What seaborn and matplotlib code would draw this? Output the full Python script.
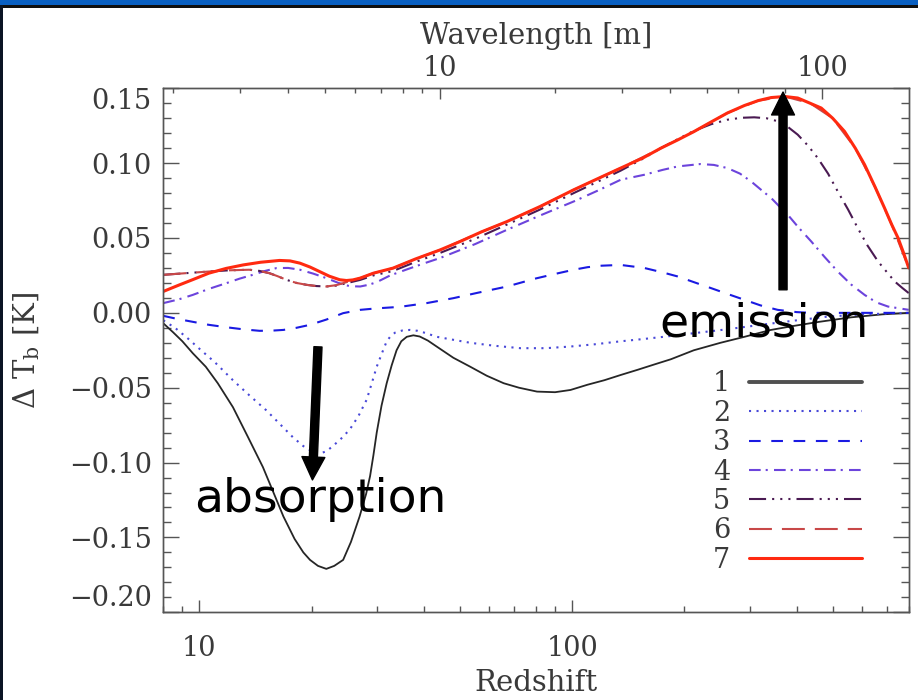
import matplotlib
matplotlib.use('Agg')
import matplotlib.pyplot as plt
import matplotlib.ticker as ticker
from matplotlib.patches import Rectangle
import seaborn as sns

# 21cm brightness temperature curves (redshift, Delta T_b in K)
z1 = [8.0, 8.5, 9.0, 9.6, 10.4, 11.2, 12.3, 13.5, 14.8, 15.8, 16.8, 18.0, 19.0, 19.8, 20.8,
      21.9, 23.0, 24.3, 25.5, 26.9, 28.0, 28.7, 29.3, 29.9, 30.8, 31.8, 32.8, 33.8, 34.8, 36.0,
      37.5, 39.0, 41.0, 43.3, 48.0, 53.3, 59.0, 65.5, 72.0, 80.5, 90.0, 99, 110, 122, 135, 150,
      166, 184, 212, 250, 290, 340, 387, 460, 560, 680, 800]
t1 = [-0.007, -0.013, -0.019, -0.027, -0.036, -0.047, -0.063, -0.083, -0.103, -0.120, -0.136,
      -0.151, -0.160, -0.165, -0.169, -0.171, -0.169, -0.165, -0.153, -0.136, -0.121, -0.109,
      -0.095, -0.080, -0.062, -0.047, -0.035, -0.025, -0.019, -0.016, -0.015, -0.0158, -0.0185,
      -0.0225, -0.030, -0.036, -0.042, -0.047, -0.050, -0.0526, -0.053, -0.0515, -0.048, -0.045,
      -0.0415, -0.038, -0.0345, -0.031, -0.025, -0.020, -0.016, -0.0115, -0.009, -0.006, -0.003,
      -0.001, 0.000]

z2 = [8.0, 8.6, 9.3, 10.0, 11.0, 12.3, 13.6, 15.1, 16.4, 17.8, 19.0, 20.2, 21.0, 21.9, 22.8,
      24.0, 25.3, 26.7, 28.1, 29.0, 29.9, 31.1, 31.8, 32.6, 33.5, 35.0, 36.7, 38.5, 40.5, 43.3,
      48, 53.3, 62, 72.6, 85, 98.9, 115, 135, 155, 176, 212, 260, 321, 400, 485, 600, 800]
t2 = [-0.005, -0.010, -0.017, -0.024, -0.033, -0.045, -0.055, -0.065, -0.074, -0.083, -0.089,
      -0.093, -0.094, -0.0925, -0.089, -0.084, -0.078, -0.069, -0.058, -0.047, -0.036, -0.025,
      -0.019, -0.0155, -0.0132, -0.0118, -0.0114, -0.012, -0.0135, -0.016, -0.018, -0.020,
      -0.022, -0.0236, -0.0236, -0.0225, -0.021, -0.019, -0.0175, -0.016, -0.0136, -0.011,
      -0.008, -0.005, -0.0025, -0.001, 0.000]

z3 = [8.0, 8.7, 9.6, 10.6, 11.8, 13.1, 14.5, 15.6, 16.8, 18.2, 19.8, 21.9, 24.3, 27.0, 29.9,
      34.5, 40.7, 48.0, 56, 66.9, 80, 90, 101, 110, 120, 135, 156, 175, 192, 215, 236, 262,
      290, 320, 356, 400, 438, 560, 800]
t3 = [-0.002, -0.004, -0.006, -0.008, -0.0096, -0.011, -0.012, -0.0119, -0.0114, -0.010,
      -0.008, -0.0045, -0.0002, 0.002, 0.003, 0.004, 0.0065, 0.0098, 0.0135, 0.0176, 0.023,
      0.026, 0.0288, 0.0305, 0.0315, 0.032, 0.030, 0.027, 0.0243, 0.020, 0.0165, 0.0125,
      0.0087, 0.005, 0.002, 0.0005, 0.0, 0.0, 0.0]

z4 = [8.0, 8.8, 9.6, 10.6, 11.8, 12.8, 13.9, 15.0, 16.1, 17.3, 18.6, 20.2, 21.9, 23.6, 25.3,
      27.0, 28.5, 29.9, 32.5, 36.0, 40, 44.2, 55, 66.9, 82, 101, 118, 135, 156, 175, 192, 221,
      240, 261, 282, 302, 322, 342, 360, 379, 405, 438, 475, 516, 560, 609, 655, 704, 800]
t4 = [0.0065, 0.009, 0.012, 0.016, 0.0198, 0.0228, 0.0254, 0.028, 0.0299, 0.030, 0.0288,
      0.0262, 0.0232, 0.020, 0.0178, 0.0176, 0.0188, 0.0205, 0.025, 0.029, 0.033, 0.0366,
      0.046, 0.0555, 0.065, 0.0744, 0.082, 0.0889, 0.0922, 0.0955, 0.0978, 0.0994, 0.0988,
      0.0967, 0.093, 0.0878, 0.082, 0.0767, 0.071, 0.0655, 0.057, 0.0477, 0.0375, 0.0276,
      0.019, 0.012, 0.007, 0.0042, 0.002]

z5 = [8.0, 9.2, 10.6, 12.0, 13.6, 14.5, 15.4, 16.2, 17.1, 18.2, 19.4, 20.6, 21.9, 23.3, 24.8,
      27.0, 29.3, 33.1, 38, 44.2, 55, 66.9, 82, 101, 118, 135, 155, 173, 192, 212, 236, 261,
      285, 308, 332, 356, 380, 403, 430, 456, 486, 516, 550, 584, 620, 662, 700, 734, 770, 800]
t5 = [0.0254, 0.0265, 0.0276, 0.0284, 0.0288, 0.028, 0.0265, 0.0245, 0.0221, 0.020, 0.0187,
      0.0179, 0.0176, 0.0182, 0.0198, 0.022, 0.025, 0.028, 0.034, 0.040, 0.0495, 0.059, 0.069,
      0.080, 0.088, 0.095, 0.103, 0.110, 0.116, 0.1215, 0.126, 0.129, 0.1303, 0.1306, 0.130,
      0.128, 0.124, 0.119, 0.1115, 0.1034, 0.093, 0.0811, 0.069, 0.0566, 0.045, 0.0343, 0.027,
      0.0209, 0.0165, 0.0132]

z6 = [8.0, 9.2, 10.6, 12.0, 13.6, 14.5, 15.4, 16.2, 17.1, 18.2, 19.4, 20.6, 21.9, 23.3, 24.8,
      27.0, 29.3, 33.1, 38, 44.2, 57, 66.9, 82, 101, 135, 173, 212, 261, 316, 372, 435, 500,
      575, 650, 720, 800]
t6 = [0.0254, 0.0265, 0.0276, 0.0284, 0.0288, 0.028, 0.0265, 0.0245, 0.0221, 0.020, 0.0187,
      0.0179, 0.0176, 0.0185, 0.0205, 0.0232, 0.0265, 0.0299, 0.036, 0.042, 0.054, 0.061,
      0.071, 0.0822, 0.0967, 0.110, 0.121, 0.1335, 0.1418, 0.1445, 0.140, 0.130, 0.110, 0.084,
      0.059, 0.030]

z7 = [8.0, 8.8, 9.6, 10.6, 11.8, 13.1, 14.6, 16.4, 17.5, 18.6, 19.8, 21.0, 22.3, 23.8, 24.8,
      25.8, 27.0, 29.3, 33.1, 38, 44.2, 50.1, 57, 66.9, 82, 101, 118, 135, 155, 173, 192, 212,
      236, 261, 290, 316, 342, 372, 403, 435, 466, 500, 538, 575, 609, 650, 689, 720, 749, 775,
      800]
t7 = [0.0143, 0.0185, 0.0222, 0.0265, 0.0297, 0.032, 0.0338, 0.035, 0.0347, 0.0332, 0.0306,
      0.0276, 0.0245, 0.0221, 0.0216, 0.022, 0.0232, 0.0265, 0.0299, 0.036, 0.042, 0.0477,
      0.054, 0.061, 0.071, 0.0822, 0.090, 0.0967, 0.1035, 0.110, 0.1155, 0.121, 0.1275, 0.1335,
      0.1385, 0.1418, 0.1438, 0.1445, 0.1435, 0.140, 0.1368, 0.130, 0.1212, 0.110, 0.099,
      0.084, 0.070, 0.059, 0.050, 0.040, 0.030]

labels = ['1', '2', '3', '4', '5', '6', '7']
z_all = [z1, z2, z3, z4, z5, z6, z7]
t_all = [t1, t2, t3, t4, t5, t6, t7]

LAMBDA_21 = 0.21   # rest wavelength in m, for the top axis
z_min, z_max = 8, 800
yticks = [-0.20, -0.15, -0.10, -0.05, 0.00, 0.05, 0.10, 0.15]

# line looks (IDL style linestyles)
colors = ['#262626', '#4848d8', '#1a1ae2', '#6c44dc', '#4a1a52', '#c84848', '#ff2a10']
styles = ['-', (0, (1, 2.6)), (0, (5.6, 5.1)), (0, (5.6, 2.4, 1, 3)),
          (0, (8.2, 2.9, 1, 2.9, 1, 2.9, 1, 2.9)), (0, (11, 4.8)), '-']
widths = [1.3, 1.5, 1.5, 1.5, 1.5, 1.5, 2.2]

sns.set_style('ticks')
plt.rcParams['font.family'] = ['DejaVu Serif']
plt.rcParams['mathtext.fontset'] = 'dejavuserif'
grey = '#3a3a3a'
axis_grey = '#555555'

fig = plt.figure(figsize=(9.18, 7.0), dpi=100)
ax = fig.add_axes([0.1779, 0.1253, 0.8120, 0.7486])

handles = []
for zz, tt, c, ls, lw in zip(z_all, t_all, colors, styles, widths):
    sns.lineplot(x=zz, y=tt, ax=ax, color=c, linestyle=ls, linewidth=lw,
                 sort=False, estimator=None)
    handles.append(ax.get_lines()[-1])

ax.set_xscale('log')
ax.set_xlim(z_min, z_max)
ax.set_ylim(-0.20, 0.15)
ax.set_yticks(yticks)
ax.yaxis.set_minor_locator(ticker.MultipleLocator(0.01))


def ylab(v, pos):
    if abs(v) < 1e-9:
        v = 0.0
    return '{:.2f}'.format(v).replace('-', '\u2212')


ax.yaxis.set_major_formatter(ticker.FuncFormatter(ylab))
ax.xaxis.set_major_formatter(ticker.FuncFormatter(lambda v, p: '{:g}'.format(v)))
ax.xaxis.set_minor_formatter(ticker.NullFormatter())

ax.tick_params(axis='y', which='both', direction='in', left=True, right=True,
               color=axis_grey, labelcolor=grey, labelsize=19.5, pad=8.4, width=1)
ax.tick_params(axis='y', which='major', length=11.5)
ax.tick_params(axis='y', which='minor', length=6.0)
ax.tick_params(axis='x', which='both', direction='in', bottom=True, top=False,
               color=axis_grey, labelcolor=grey, labelsize=19.5, pad=16.5, width=1)
ax.tick_params(axis='x', which='major', length=9)
ax.tick_params(axis='x', which='minor', length=4.5)

ax.set_xlabel('Redshift', fontsize=21, color=grey)
ax.xaxis.set_label_coords(0.5, -0.108)
ax.set_ylabel(r'$\Delta$ T$_{\rm b}$ [K]', fontsize=21, color=grey)
ax.yaxis.set_label_coords(-0.163, 0.5)

# end labels of the y axis sit inside the axis range, as in the original
ylabels = ax.get_yticklabels()
ylabels[0].set_verticalalignment('bottom')
ylabels[-1].set_verticalalignment('top')

# top axis: wavelength, log scale between the end points
ax2 = ax.twiny()
ax2.set_xscale('log')
ax2.set_xlim(LAMBDA_21 * (1 + z_min), LAMBDA_21 * (1 + z_max))
ax2.xaxis.set_major_formatter(ticker.FuncFormatter(lambda v, p: '{:g}'.format(v)))
ax2.xaxis.set_minor_formatter(ticker.NullFormatter())
ax2.tick_params(axis='x', which='both', direction='in', top=True, bottom=False,
                color=axis_grey, labelcolor=grey, labelsize=19.5, pad=4.5, width=1)
ax2.tick_params(axis='x', which='major', length=8)
ax2.tick_params(axis='x', which='minor', length=3.5)
ax2.set_xlabel('Wavelength [m]', fontsize=21, color=grey)
ax2.xaxis.set_label_coords(0.5, 1.084)

for a in (ax, ax2):
    for sp in a.spines.values():
        sp.set_color(axis_grey)
        sp.set_linewidth(1.0)

leg = ax.legend(handles, labels, loc='upper right', bbox_to_anchor=(0.937, 0.462),
                frameon=False, markerfirst=False, handlelength=4.15, handletextpad=0.7,
                labelspacing=0.09, borderpad=0, borderaxespad=0, prop={'size': 19.5})
for t in leg.get_texts():
    t.set_color(grey)
leg.get_lines()[0].set_linewidth(2.8)
leg.get_lines()[0].set_color('#505050')

# annotations
arrow_kw = dict(facecolor='black', edgecolor='black', width=5.8, headwidth=16.5,
                headlength=16.5, shrink=0)
ax.annotate('', xy=(20.1, -0.1116), xytext=(20.8, -0.0227), arrowprops=arrow_kw)
ax.annotate('', xy=(368, 0.1475), xytext=(368, 0.0154), arrowprops=arrow_kw)
ax.text(21.16, -0.133, 'absorption', family='DejaVu Sans', fontsize=34,
        ha='center', va='baseline', color='black')
ax.text(327, -0.016, 'emission', family='DejaVu Sans', fontsize=34,
        ha='center', va='baseline', color='black')

# slide frame
fig.add_artist(Rectangle((0, 1 - 5 / 700), 1, 5 / 700, transform=fig.transFigure,
                         color='#0a60c2', lw=0))
fig.add_artist(Rectangle((0, 1 - 7.5 / 700), 1, 2.5 / 700, transform=fig.transFigure,
                         color='#101010', lw=0))
fig.add_artist(Rectangle((0, 0), 3 / 918, 1 - 5 / 700, transform=fig.transFigure,
                         color='#0b1424', lw=0))

fig.savefig('out.png', dpi=100)
plt.close(fig)
